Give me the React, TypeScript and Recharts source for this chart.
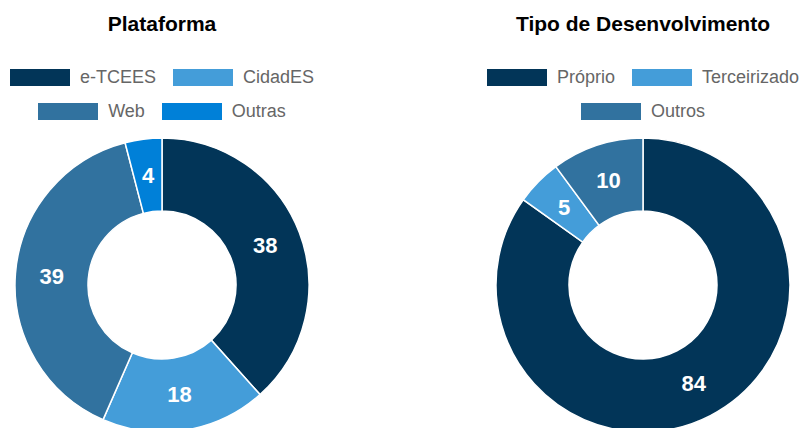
import React from "react";
import { PieChart, Pie, Cell } from "recharts";

const plataformaLabels = ["e-TCEES", "CidadES", "Web", "Outras"];
const plataformaValues = [38, 18, 39, 4];
const plataformaColors = ["#023558", "#449dd9", "#31729f", "#0080d8"];

const tipoLabels = ["Próprio", "Terceirizado", "Outros"];
const tipoValues = [84, 5, 10];
const tipoColors = ["#023558", "#449dd9", "#31729f"];

const FONT = "'Liberation Sans', Arial, Helvetica, sans-serif";
const RAD = Math.PI / 180;

const plataformaData = plataformaLabels.map((name, i) => ({ name, value: plataformaValues[i] }));
const tipoData = tipoLabels.map((name, i) => ({ name, value: tipoValues[i] }));

const renderLabel = (p: any) => {
  const r = (p.innerRadius + p.outerRadius) / 2;
  const x = p.cx + r * Math.cos(-p.midAngle * RAD);
  const y = p.cy + r * Math.sin(-p.midAngle * RAD);
  return (
    <text
      x={x}
      y={y}
      fill="#ffffff"
      textAnchor="middle"
      dominantBaseline="central"
      fontFamily={FONT}
      fontWeight="bold"
      fontSize={22}
    >
      {p.value}
    </text>
  );
};

function Legend({ labels, colors, center }: { labels: string[]; colors: string[]; center: number }) {
  const rows: number[][] = [];
  for (let i = 0; i < labels.length; i += 2) rows.push([i, i + 1].filter((j) => j < labels.length));
  return (
    <div style={{ position: "absolute", left: center - 200, top: 69, width: 400 }}>
      {rows.map((row, ri) => (
        <div
          key={ri}
          style={{ display: "flex", justifyContent: "center", height: 17, marginBottom: 17, alignItems: "center" }}
        >
          {row.map((j, k) => (
            <div key={j} style={{ display: "flex", alignItems: "center", marginLeft: k > 0 ? 17 : 0 }}>
              <div style={{ width: 60, height: 17, background: colors[j], boxSizing: "border-box" }} />
              <span
                style={{
                  marginLeft: 10,
                  fontSize: 18,
                  color: "#666666",
                  fontFamily: FONT,
                  lineHeight: "17px",
                  whiteSpace: "nowrap",
                }}
              >
                {labels[j]}
              </span>
            </div>
          ))}
        </div>
      ))}
    </div>
  );
}

function Title({ text, center }: { text: string; center: number }) {
  return (
    <div
      style={{
        position: "absolute",
        left: center - 200,
        width: 400,
        top: 11,
        textAlign: "center",
        fontFamily: FONT,
        fontWeight: "bold",
        fontSize: 21,
        color: "#000",
        lineHeight: "25px",
      }}
    >
      {text}
    </div>
  );
}

export default function App() {
  const leftC = 162;
  const rightC = 643;
  return (
    <div
      style={{
        position: "absolute",
        left: 0,
        top: 0,
        width: 803,
        height: 428,
        background: "#ffffff",
        overflow: "hidden",
      }}
    >
      <PieChart width={803} height={428} margin={{ top: 0, right: 0, bottom: 0, left: 0 }}>
        <Pie
          data={plataformaData}
          dataKey="value"
          nameKey="name"
          cx={leftC}
          cy={285}
          outerRadius={147}
          innerRadius={74}
          startAngle={90}
          endAngle={-270}
          stroke="#ffffff"
          strokeWidth={1.5}
          label={renderLabel}
          labelLine={false}
          isAnimationActive={false}
        >
          {plataformaData.map((d, i) => (
            <Cell key={d.name} fill={plataformaColors[i]} />
          ))}
        </Pie>
        <Pie
          data={tipoData}
          dataKey="value"
          nameKey="name"
          cx={rightC}
          cy={285}
          outerRadius={147}
          innerRadius={74}
          startAngle={90}
          endAngle={-270}
          stroke="#ffffff"
          strokeWidth={1.5}
          label={renderLabel}
          labelLine={false}
          isAnimationActive={false}
        >
          {tipoData.map((d, i) => (
            <Cell key={d.name} fill={tipoColors[i]} />
          ))}
        </Pie>
      </PieChart>
      <Title text="Plataforma" center={leftC} />
      <Title text="Tipo de Desenvolvimento" center={rightC} />
      <Legend labels={plataformaLabels} colors={plataformaColors} center={leftC} />
      <Legend labels={tipoLabels} colors={tipoColors} center={rightC} />
    </div>
  );
}
